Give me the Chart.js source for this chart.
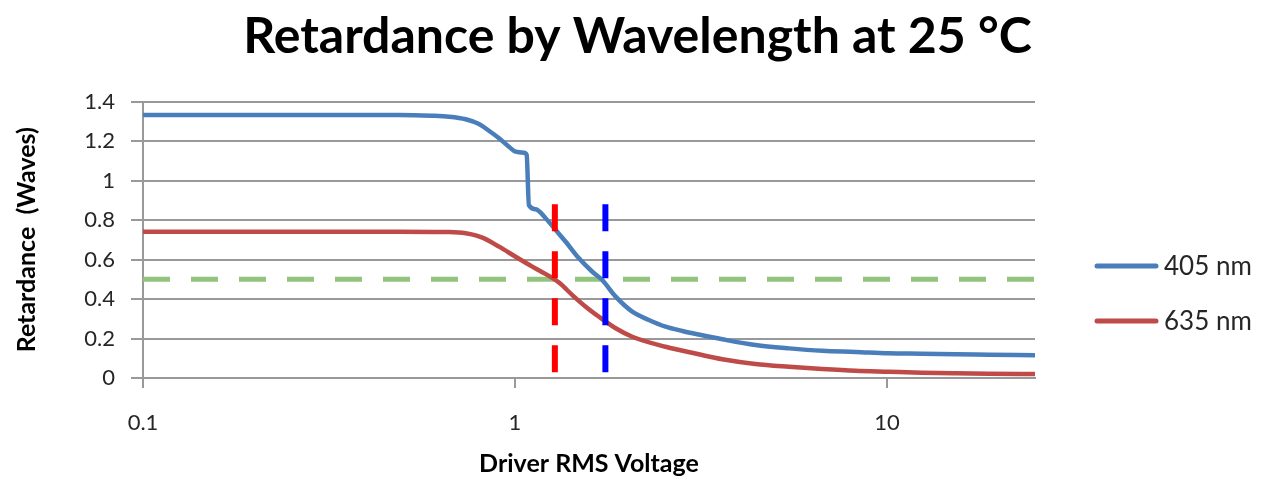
<!DOCTYPE html>
<html>
<head>
<meta charset="utf-8">
<script src="https://cdn.jsdelivr.net/npm/chart.js@4/dist/chart.umd.min.js"></script>
<style>
  html, body { margin: 0; padding: 0; background: #ffffff; }
  #wrap { width: 1265px; height: 479px; position: relative; }
</style>
</head>
<body>
<div id="wrap"><canvas id="c"></canvas></div>
<script>
// ---- data ----
const chartTitle = 'Retardance by Wavelength at 25 °C';
const xAxisTitle = 'Driver RMS Voltage';
const yAxisTitle = 'Retardance  (Waves)';

const voltage405 = [0.1, 0.2, 0.3, 0.4, 0.488, 0.598, 0.665, 0.737, 0.80, 0.851, 0.906, 0.963, 1.004, 1.057, 1.075, 1.09, 1.137, 1.209, 1.287, 1.369, 1.486, 1.614, 1.716, 1.865, 2.067, 2.29, 2.54, 2.82, 3.12, 3.61, 4.43, 5.46, 6.70, 8.24, 10.1, 12.4, 15.3, 18.8, 25];
const retard405  = [1.332, 1.332, 1.332, 1.332, 1.332, 1.328, 1.323, 1.310, 1.286, 1.252, 1.214, 1.171, 1.146, 1.141, 1.130, 0.875, 0.854, 0.809, 0.749, 0.690, 0.606, 0.538, 0.496, 0.412, 0.336, 0.294, 0.260, 0.238, 0.220, 0.196, 0.167, 0.150, 0.138, 0.132, 0.125, 0.123, 0.120, 0.118, 0.115];

const voltage635 = [0.1, 0.2, 0.3, 0.4, 0.488, 0.665, 0.737, 0.817, 0.906, 1.004, 1.113, 1.234, 1.313, 1.426, 1.549, 1.682, 1.865, 2.067, 2.54, 3.12, 3.61, 4.43, 5.46, 6.70, 8.24, 10.1, 12.4, 15.3, 18.8, 25];
const retard635  = [0.741, 0.741, 0.741, 0.741, 0.741, 0.739, 0.733, 0.711, 0.665, 0.614, 0.564, 0.517, 0.483, 0.420, 0.361, 0.310, 0.252, 0.209, 0.158, 0.120, 0.095, 0.071, 0.057, 0.046, 0.037, 0.032, 0.027, 0.024, 0.022, 0.020];

const seriesLabels = ['405 nm', '635 nm'];
const halfWaveLevel = 0.5;
const halfWaveSpan = [0.1, 25];
const markerVoltages = [1.28, 1.75];       // red (635 nm), blue (405 nm)
const markerRange = [0.88, 0.02];
const xTickValues = [0.1, 1, 10];
const xTickLabels = ['0.1', '1', '10'];
const yTickLabels = ['0', '0.2', '0.4', '0.6', '0.8', '1', '1.2', '1.4'];

// ---- styles ----
const FONT = 'Lato, "Open Sans", "Noto Sans", sans-serif';
const BLUE = '#4a7ebb';
const RED = '#be4b48';
const GREEN = '#93c47d';
const GRID = '#999999';
const TEXT = '#262626';

const toPoints = (xs, ys) => xs.map((x, i) => ({ x: x, y: ys[i] }));

const datasets = [
  { label: seriesLabels[0], data: toPoints(voltage405, retard405), borderColor: BLUE, backgroundColor: BLUE,
    borderWidth: 4.5, pointRadius: 0, cubicInterpolationMode: 'monotone', order: 2, inLegend: true },
  { label: seriesLabels[1], data: toPoints(voltage635, retard635), borderColor: RED, backgroundColor: RED,
    borderWidth: 4.5, pointRadius: 0, cubicInterpolationMode: 'monotone', order: 3, inLegend: true },
  { label: 'half wave', data: halfWaveSpan.map(x => ({ x: x, y: halfWaveLevel })), borderColor: GREEN,
    borderWidth: 5, borderDash: [27, 21], pointRadius: 0, order: 4 },
  { label: 'V 635', data: markerRange.map(y => ({ x: markerVoltages[0], y: y })), borderColor: '#ff0000',
    borderWidth: 6, borderDash: [27, 20], pointRadius: 0, order: 1 },
  { label: 'V 405', data: markerRange.map(y => ({ x: markerVoltages[1], y: y })), borderColor: '#0000ff',
    borderWidth: 6, borderDash: [27, 20], pointRadius: 0, order: 0 }
];

const sideLegend = {
  id: 'sideLegend',
  afterDraw(chart) {
    const ctx = chart.ctx;
    const items = chart.data.datasets.filter(d => d.inLegend);
    ctx.save();
    ctx.font = '26px ' + FONT;
    ctx.textBaseline = 'middle';
    ctx.textAlign = 'left';
    items.forEach((d, i) => {
      const y = 266 + i * 55;
      ctx.strokeStyle = d.borderColor;
      ctx.lineWidth = 5;
      ctx.lineCap = 'round';
      ctx.beginPath();
      ctx.moveTo(1097, y);
      ctx.lineTo(1156, y);
      ctx.stroke();
      ctx.fillStyle = TEXT;
      ctx.fillText(d.label, 1164, y + 1);
    });
    ctx.restore();
  }
};

new Chart(document.getElementById('c'), {
  type: 'line',
  data: { datasets: datasets },
  plugins: [sideLegend],
  options: {
    responsive: true,
    maintainAspectRatio: false,
    devicePixelRatio: 1,
    animation: false,
    layout: { padding: { left: 10, right: 0, top: 0, bottom: 0 } },
    plugins: {
      legend: { display: false },
      tooltip: { enabled: false },
      title: {
        display: true, text: chartTitle, color: '#000000',
        font: { family: FONT, size: 50, weight: 'bold', lineHeight: 1.2 },
        padding: { top: 7, bottom: 34.5 }
      }
    },
    scales: {
      x: {
        type: 'logarithmic', min: 0.1, max: 25,
        afterFit: s => { s.height = 101; },
        afterBuildTicks: s => { s.ticks = xTickValues.map(v => ({ value: v })); },
        ticks: {
          autoSkip: false, maxRotation: 0, color: TEXT, padding: 22,
          font: { family: FONT, size: 22 },
          callback: (v, i) => xTickLabels[i]
        },
        grid: { display: true, drawOnChartArea: false, drawTicks: true, tickLength: 10, color: GRID, lineWidth: 2 },
        border: { display: true, color: GRID, width: 2 },
        title: { display: true, text: xAxisTitle, color: '#000000',
          font: { family: FONT, size: 25, weight: 'bold', lineHeight: 1.2 }, padding: { top: 0, bottom: 0 } }
      },
      y: {
        min: 0, max: 1.4,
        afterFit: s => { s.width = 133; },
        ticks: {
          stepSize: 0.2, color: TEXT, padding: 16,
          font: { family: FONT, size: 22 },
          callback: (v) => yTickLabels[Math.round(v / 0.2)]
        },
        grid: { color: GRID, lineWidth: 2, tickLength: 12, drawTicks: true },
        border: { display: true, color: GRID, width: 2 },
        title: { display: true, text: yAxisTitle, color: '#000000',
          font: { family: FONT, size: 25, weight: 'bold', lineHeight: 1.2 }, padding: { top: 2, bottom: 0 } }
      },
      legendSpace: {
        type: 'linear', position: 'right', display: true,
        afterFit: s => { s.width = 230; },
        ticks: { display: false },
        grid: { display: false, drawTicks: false },
        border: { display: false }
      }
    }
  }
});
</script>
</body>
</html>
